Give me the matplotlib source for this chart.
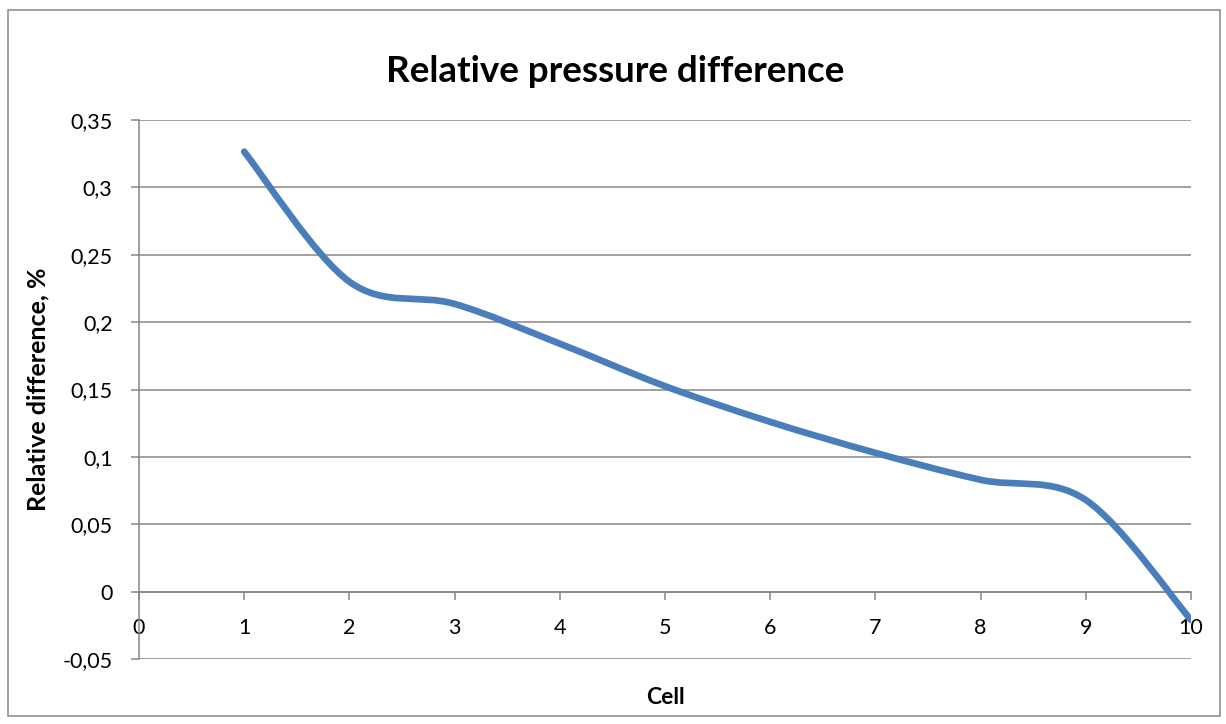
import numpy as np
import matplotlib
matplotlib.use("Agg")
import matplotlib.pyplot as plt
from matplotlib.path import Path
from matplotlib.patches import PathPatch, Rectangle
from matplotlib.ticker import FuncFormatter, MultipleLocator

cells = [1, 2, 3, 4, 5, 6, 7, 8, 9, 10]
rel_diff = [0.3265, 0.230, 0.2135, 0.184, 0.1525, 0.126, 0.103, 0.083, 0.068, -0.021]

title = "Relative pressure difference"
xlabel = "Cell"
ylabel = "Relative difference, %"

grey = "#868686"
blue = "#4A7EBB"

plt.rcParams["font.family"] = ["Lato", "DejaVu Sans"]


def smooth_path(xs, ys):
    # cubic bezier segments with catmull-rom style tangents (like a spreadsheet "smoothed line")
    pts = np.column_stack([xs, ys]).astype(float)
    n = len(pts)
    verts = [pts[0]]
    codes = [Path.MOVETO]
    for i in range(n - 1):
        p0 = pts[max(i - 1, 0)]
        p1 = pts[i]
        p2 = pts[i + 1]
        p3 = pts[min(i + 2, n - 1)]
        c1 = p1 + (p2 - p0) / 6.0
        c2 = p2 - (p3 - p1) / 6.0
        verts += [c1, c2, p2]
        codes += [Path.CURVE4] * 3
    return Path(verts, codes)


fig = plt.figure(figsize=(12.26, 7.24), dpi=100)
ax = fig.add_axes([139 / 1226, 1 - 659 / 724, (1191 - 139) / 1226, (659 - 120) / 724])

ax.add_patch(PathPatch(smooth_path(cells, rel_diff), facecolor="none", edgecolor=blue,
                       lw=4.8, capstyle="round", joinstyle="round", zorder=5))

ax.set_xlim(0, 10)
ax.set_ylim(-0.05, 0.35)
ax.yaxis.set_major_locator(MultipleLocator(0.05))
ax.xaxis.set_major_locator(MultipleLocator(1))

fmt = FuncFormatter(lambda v, p: ("%g" % round(v, 4)).replace(".", ","))
ax.yaxis.set_major_formatter(fmt)
ax.xaxis.set_major_formatter(fmt)

ax.grid(axis="y", color=grey, lw=1.1)
ax.set_axisbelow(True)
for s in ["top", "right"]:
    ax.spines[s].set_visible(False)
ax.spines["left"].set_color(grey)
ax.spines["left"].set_linewidth(1.1)
ax.spines["bottom"].set_position(("data", 0))
ax.spines["bottom"].set_color(grey)
ax.spines["bottom"].set_linewidth(1.1)

ax.tick_params(axis="y", direction="out", length=6, width=1.1, color=grey,
               labelsize=15.5, pad=13)
ax.tick_params(axis="x", direction="out", length=6, width=1.1, color=grey,
               labelsize=15.5, pad=13)

fig.text(615 / 1226, 1 - 72 / 724, title, ha="center", va="center",
         fontsize=26.5, fontweight="bold")
fig.text(665 / 1226, 1 - 697 / 724, xlabel, ha="center", va="center",
         fontsize=16.5, fontweight="bold")
fig.text(38 / 1226, 1 - 389 / 724, ylabel, ha="center", va="center",
         rotation=90, fontsize=18, fontweight="bold")

# chart frame
fig.patches.append(Rectangle((8 / 1226, 1 - 716 / 724), 1212 / 1226, 706 / 724,
                             transform=fig.transFigure, fill=False,
                             edgecolor=grey, lw=1.1))

fig.savefig("out.png", dpi=100)
